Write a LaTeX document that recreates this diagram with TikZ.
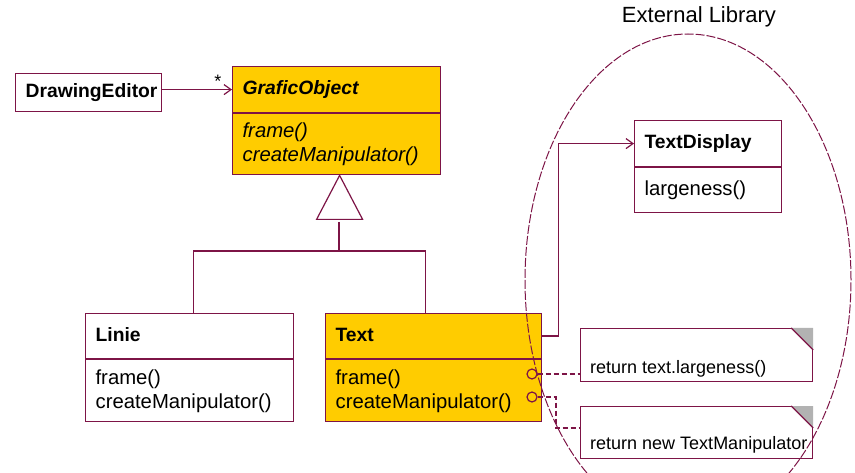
\documentclass[tikz,border=0pt]{standalone}
\usepackage{fontspec}
\setmainfont{Liberation Sans}
\usetikzlibrary{calc, positioning}
\usetikzlibrary{arrows.meta}

\definecolor{umlred}{RGB}{125,20,70}
\definecolor{umlyellow}{RGB}{255,204,0}
\definecolor{foldgray}{RGB}{178,178,178}

\tikzset{
  umlline/.style={draw=umlred, line width=1.2pt},
  clshead/.style={umlline, rectangle, anchor=north west, inner xsep=10pt, inner ysep=0pt,
    text width=#1, align=left, text height=14pt, text depth=4pt,
    font=\fontsize{19.3}{24}\selectfont\bfseries},
  clsbody/.style={umlline, rectangle, anchor=north, inner xsep=10pt, inner ysep=0pt,
    text width=#1, align=left, font=\fontsize{20.3}{24}\selectfont},
  notebox/.style={umlline, rectangle, anchor=north west, inner sep=0pt, fill=white},
  notetext/.style={anchor=base west, inner sep=0pt, font=\fontsize{18}{22}\selectfont},
  port/.style={umlline, circle, inner sep=0pt, minimum size=10pt},
  assoc/.style={umlline, -{Straight Barb[length=7pt, width=10pt]}},
  dep/.style={umlline, dash pattern=on 5pt off 3pt},
}

\begin{document}
\begin{tikzpicture}[x=1pt, y=-1pt]
\clip (0,0) rectangle (855,473);

\node[clshead=126pt, minimum height=38pt] (DE) at (15,73) {DrawingEditor};

\node[clshead=188pt, minimum height=46pt, fill=umlyellow] (GOh) at (232,66) {\itshape GraficObject};
\node[clsbody=188pt, minimum height=61pt, fill=umlyellow, below=0pt of GOh] (GOb)
  {\itshape frame()\\ \itshape createManipulator()};

\node[clshead=188pt, minimum height=45pt] (Lih) at (85,313) {Linie};
\node[clsbody=188pt, minimum height=62pt, below=0pt of Lih] (Lib)
  {frame()\\ createManipulator()};

\node[clshead=196pt, minimum height=45pt, fill=umlyellow] (Txh) at (325,313) {Text};
\node[clsbody=196pt, minimum height=62pt, fill=umlyellow, below=0pt of Txh] (Txb)
  {frame()\\ createManipulator()};

\node[clshead=127pt, minimum height=46pt] (TDh) at (634,120) {TextDisplay};
\node[clsbody=127pt, minimum height=45pt, below=0pt of TDh] (TDb) {largeness()};

% association
\draw[assoc] ([yshift=3pt]DE.east) -- ([yshift=3pt]DE.east -| GOh.west);
\node[anchor=base, inner sep=0pt, font=\fontsize{18}{22}\selectfont] (star) at (218,88) {*};

% generalization
\coordinate (apex) at ([xshift=3pt]GOb.south);
\draw[umlline, fill=white] (apex) -- ++(23,44) -- ++(-46,0) -- cycle;
\coordinate (stemtop) at (339,222);
\coordinate (fork) at (339,251);
\draw[umlline] (stemtop) -- (fork);
\draw[umlline] (fork) -| ([xshift=4pt]Lih.north);
\draw[umlline] (fork) -| ([xshift=-8pt]Txh.north);

% Text -> TextDisplay
\draw[assoc] (Txh.east) -- ++(16,0) |- (TDh.west);

% notes
\node[notebox, minimum width=232pt, minimum height=53pt] (n1) at (580,328) {};
\node[notebox, minimum width=232pt, minimum height=52pt] (n2) at (580,406) {};
\foreach \n in {n1, n2} {
  \fill[foldgray] (\n.north east) -- ++(-22pt,0) -- ++(22pt,-22pt) -- cycle;
  \draw[umlline] ([xshift=-22pt]\n.north east) -- ([yshift=-22pt]\n.north east);
}
\node[notetext] (n1txt) at ([shift={(10pt,9pt)}]n1.south west) {return text.largeness()};
\node[notetext] (n2txt) at ([shift={(10pt,10pt)}]n2.south west) {return new TextManipulator};

\node[port] (p1) at (532,374) {};
\node[port] (p2) at (532,397) {};
\coordinate (bend) at (556,428);
\draw[dep] (p1.east) -- (p1.east -| n1.west);
\draw[dep] (p2.east) -| (bend) -- (bend -| n2.west);

% library border
\draw[draw=umlred, line width=1pt, dash pattern=on 9pt off 2pt] (688,280) ellipse (163pt and 246pt);
\node[anchor=base, inner sep=0pt, font=\fontsize{22}{26}\selectfont] (lib) at (699,23) {External Library};
\end{tikzpicture}
\end{document}
